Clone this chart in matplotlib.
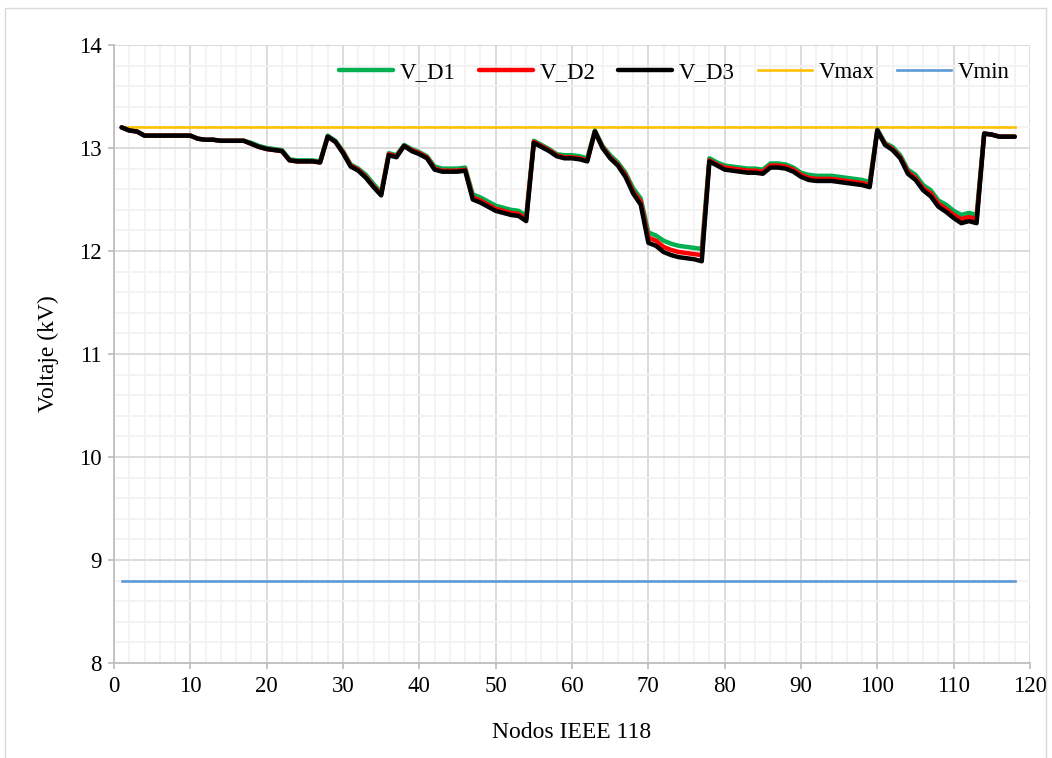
import matplotlib
matplotlib.use("Agg")
import matplotlib.pyplot as plt
from matplotlib.patches import Rectangle
from matplotlib.ticker import MultipleLocator

# Bus numbers of the IEEE 118 test system
nodes = list(range(1, 119))

# Bus voltages (kV) for the three dispatch scenarios
v_d1 = [13.20, 13.17, 13.16, 13.12, 13.12, 13.12, 13.12, 13.12, 13.12, 13.12,
        13.09, 13.08, 13.08, 13.07, 13.07, 13.07, 13.07, 13.05, 13.02, 13.00,
        12.99, 12.98, 12.89, 12.88, 12.88, 12.88, 12.87, 13.12, 13.07, 12.97,
        12.84, 12.80, 12.74, 12.65, 12.57, 12.95, 12.93, 13.03, 12.99, 12.96,
        12.92, 12.82, 12.80, 12.80, 12.80, 12.81, 12.55, 12.52, 12.48, 12.44,
        12.42, 12.40, 12.39, 12.34, 13.07, 13.03, 12.99, 12.94, 12.93, 12.93,
        12.92, 12.90, 13.17, 13.02, 12.93, 12.86, 12.76, 12.61, 12.51, 12.18,
        12.15, 12.10, 12.07, 12.05, 12.04, 12.03, 12.02, 12.90, 12.86, 12.83,
        12.82, 12.81, 12.80, 12.80, 12.79, 12.85, 12.85, 12.84, 12.81, 12.76,
        12.74, 12.73, 12.73, 12.73, 12.72, 12.71, 12.70, 12.69, 12.67, 13.18,
        13.05, 13.01, 12.93, 12.79, 12.74, 12.64, 12.59, 12.49, 12.45, 12.39,
        12.35, 12.37, 12.35, 13.14, 13.13, 13.11, 13.11, 13.11]

v_d2 = [13.20, 13.17, 13.16, 13.12, 13.12, 13.12, 13.12, 13.12, 13.12, 13.12,
        13.09, 13.08, 13.08, 13.07, 13.07, 13.07, 13.07, 13.04, 13.01, 12.99,
        12.98, 12.97, 12.88, 12.87, 12.87, 12.87, 12.86, 13.11, 13.06, 12.96,
        12.83, 12.79, 12.72, 12.63, 12.55, 12.94, 12.92, 13.02, 12.98, 12.95,
        12.91, 12.80, 12.78, 12.78, 12.78, 12.79, 12.52, 12.49, 12.45, 12.41,
        12.39, 12.37, 12.36, 12.31, 13.06, 13.02, 12.98, 12.93, 12.91, 12.91,
        12.90, 12.88, 13.16, 13.01, 12.91, 12.84, 12.74, 12.58, 12.48, 12.13,
        12.10, 12.04, 12.01, 11.99, 11.98, 11.97, 11.96, 12.88, 12.84, 12.81,
        12.80, 12.79, 12.78, 12.78, 12.77, 12.83, 12.83, 12.82, 12.79, 12.74,
        12.71, 12.70, 12.70, 12.70, 12.69, 12.68, 12.67, 12.66, 12.64, 13.17,
        13.04, 12.99, 12.91, 12.77, 12.71, 12.61, 12.56, 12.46, 12.41, 12.35,
        12.31, 12.33, 12.31, 13.14, 13.13, 13.11, 13.11, 13.11]

v_d3 = [13.20, 13.17, 13.16, 13.12, 13.12, 13.12, 13.12, 13.12, 13.12, 13.12,
        13.09, 13.08, 13.08, 13.07, 13.07, 13.07, 13.07, 13.04, 13.01, 12.99,
        12.98, 12.97, 12.88, 12.87, 12.87, 12.87, 12.86, 13.11, 13.06, 12.95,
        12.82, 12.78, 12.71, 12.62, 12.54, 12.93, 12.91, 13.02, 12.97, 12.94,
        12.90, 12.79, 12.77, 12.77, 12.77, 12.78, 12.50, 12.47, 12.43, 12.39,
        12.37, 12.35, 12.34, 12.29, 13.05, 13.01, 12.97, 12.92, 12.90, 12.90,
        12.89, 12.87, 13.16, 13.00, 12.90, 12.83, 12.72, 12.56, 12.45, 12.08,
        12.05, 11.99, 11.96, 11.94, 11.93, 11.92, 11.90, 12.87, 12.83, 12.79,
        12.78, 12.77, 12.76, 12.76, 12.75, 12.81, 12.81, 12.80, 12.77, 12.72,
        12.69, 12.68, 12.68, 12.68, 12.67, 12.66, 12.65, 12.64, 12.62, 13.17,
        13.03, 12.98, 12.90, 12.75, 12.69, 12.59, 12.53, 12.43, 12.38, 12.32,
        12.27, 12.29, 12.27, 13.14, 13.13, 13.11, 13.11, 13.11]

# Voltage limits (kV)
v_max = 13.2
v_min = 8.8

series_labels = ["V_D1", "V_D2", "V_D3", "Vmax", "Vmin"]

plt.rcParams["font.family"] = ["Liberation Serif", "DejaVu Serif"]

fig = plt.figure(figsize=(10.52, 7.58), dpi=100)
ax = fig.add_axes([114 / 1052, 1 - 663 / 758, 916 / 1052, 618 / 758])

lw_main = 3.2
ax.plot(nodes, v_d1, color="#00B050", lw=lw_main, solid_joinstyle="round",
        solid_capstyle="round", label=series_labels[0], zorder=3)
ax.plot(nodes, v_d2, color="#FF0000", lw=lw_main, solid_joinstyle="round",
        solid_capstyle="round", label=series_labels[1], zorder=4)
ax.plot(nodes, v_d3, color="#000000", lw=lw_main, solid_joinstyle="round",
        solid_capstyle="round", label=series_labels[2], zorder=5)
ax.plot(nodes, [v_max] * len(nodes), color="#FFC000", lw=1.9,
        label=series_labels[3], zorder=2)
ax.plot(nodes, [v_min] * len(nodes), color="#5B9BD5", lw=1.9,
        label=series_labels[4], zorder=2)

ax.set_xlim(0, 120)
ax.set_ylim(8, 14)
ax.xaxis.set_major_locator(MultipleLocator(10))
ax.xaxis.set_minor_locator(MultipleLocator(2))
ax.yaxis.set_major_locator(MultipleLocator(1))
ax.yaxis.set_minor_locator(MultipleLocator(0.2))

ax.grid(which="minor", color="#F2F2F2", lw=1.3, zorder=0)
ax.grid(which="major", color="#D9D9D9", lw=1.3, zorder=0)
ax.set_axisbelow(True)

for side in ("top", "right"):
    ax.spines[side].set_visible(False)
for side in ("left", "bottom"):
    ax.spines[side].set_color("#BFBFBF")
    ax.spines[side].set_linewidth(1.3)

ax.tick_params(which="major", length=4, width=1.3, color="#BFBFBF",
               labelsize=16.5, labelcolor="#000000", pad=5)
ax.tick_params(which="minor", length=0)

ax.set_xlabel("Nodos IEEE 118", fontsize=17, labelpad=18)
ax.set_ylabel("Voltaje (kV)", fontsize=17, labelpad=14)

leg = ax.legend(loc="upper right", bbox_to_anchor=(0.978, 0.972), ncol=5,
                frameon=False, fontsize=16.5, handlelength=2.35,
                handletextpad=0.3, columnspacing=1.0, borderpad=0,
                borderaxespad=0)

# Light outline around the whole chart area
fig.patches.append(Rectangle((5 / 1052, -0.01), 1041 / 1052, 1.01 - 8 / 758,
                             transform=fig.transFigure, fill=False,
                             edgecolor="#D9D9D9", lw=1.0))

fig.savefig("out.png", dpi=100)
